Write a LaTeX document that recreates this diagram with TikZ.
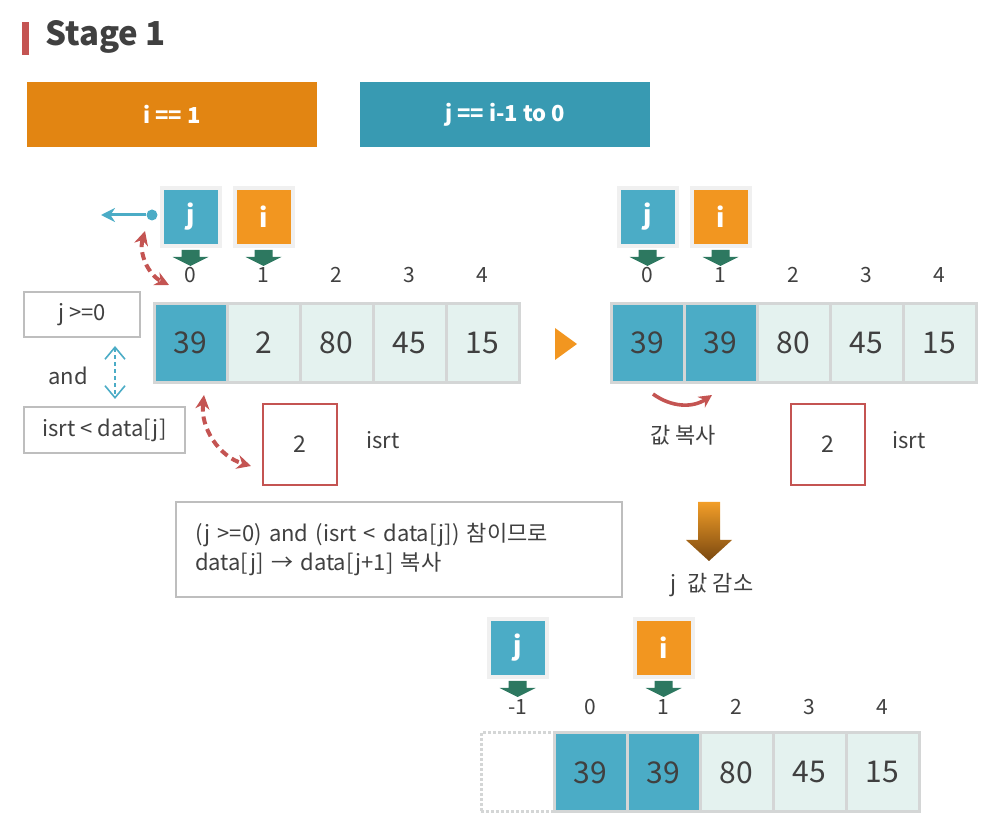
\documentclass[tikz,border=0pt]{standalone}
\usepackage{fontspec}
\setmainfont{Noto Sans CJK KR}
\usetikzlibrary{positioning,arrows.meta,calc}

\definecolor{tealhd}{RGB}{56,154,178}
\definecolor{orangehd}{RGB}{226,133,18}
\definecolor{tealc}{RGB}{75,172,198}
\definecolor{orangec}{RGB}{242,150,32}
\definecolor{lightc}{RGB}{228,242,239}
\definecolor{cellgray}{RGB}{212,214,214}
\definecolor{boxgray}{RGB}{190,190,190}
\definecolor{redc}{RGB}{196,84,82}
\definecolor{textc}{RGB}{64,64,64}
\definecolor{ptrgreen}{RGB}{45,120,96}

\tikzset{
  hdbox/.style={minimum width=145pt, minimum height=32.5pt, inner sep=0pt, text=white, font=\fontsize{11}{13}\selectfont\bfseries},
  cell/.style={draw=cellgray, line width=1.5pt, fill=lightc, minimum width=36.5pt, minimum height=39.5pt, inner sep=0pt, text=textc, font=\fontsize{15}{18}\selectfont},
  hicell/.style={cell, fill=tealc},
  idx/.style={text=textc, font=\fontsize{10.5}{12}\selectfont},
  ptr/.style={draw=black!6, line width=2pt, minimum size=29pt, inner sep=0pt, text=white, font=\fontsize{13}{15}\selectfont\bfseries},
  ptrj/.style={ptr, fill=tealc},
  ptri/.style={ptr, fill=orangec},
  cond/.style={draw=boxgray, line width=1pt, inner sep=0pt, text=textc, font=\fontsize{11}{13}\selectfont},
  isrtbox/.style={draw=redc, line width=1pt, minimum width=37pt, minimum height=40.5pt, inner sep=0pt, text=textc, font=\fontsize{11.5}{13}\selectfont},
  txt/.style={text=textc, font=\fontsize{11}{13}\selectfont},
  reddash/.style={redc, line width=2pt, dash pattern=on 4pt off 2.5pt, {Stealth[length=7pt,width=7pt]}-{Stealth[length=7pt,width=7pt]}},
}

\begin{document}
\begin{tikzpicture}[x=0.5pt,y=-0.5pt]
\useasboundingbox (0,0) rectangle (998,834);
% 标题
\fill[redc] (22,22) rectangle (29,55);
\node[anchor=west, text=textc, font=\fontsize{16.5}{20}\selectfont\bfseries] (title) at (38,37) {Stage 1};
\node[hdbox, fill=orangehd] (hdi) at (172,114.5) {i == 1};
\node[hdbox, fill=tealhd] (hdj) at (505,114.5) {j == i-1 to 0};

% 第一个数组
\foreach \v/\st [count=\k from 0] in {39/hicell,2/cell,80/cell,45/cell,15/cell} {
  \node[\st] (a\k) at (190.5+73*\k,343) {\v};
  \node[idx] (ia\k) at (190.5+73*\k,275) {\k};
}
\node[ptrj] (pj1) at (190.5,217) {j};
\node[ptri] (pi1) at (263.5,217) {i};

% 第二个数组
\foreach \v/\st [count=\k from 0] in {39/hicell,39/hicell,80/cell,45/cell,15/cell} {
  \node[\st] (b\k) at (647.5+73*\k,343) {\v};
  \node[idx] (ib\k) at (647.5+73*\k,275) {\k};
}
\node[ptrj] (pj2) at (647.5,217) {j};
\node[ptri] (pi2) at (720.5,217) {i};

% 第三个数组
\node[cell, fill=white, densely dotted] (c0) at (517.5,772.5) {};
\node[idx] (ic0) at (517.5,707) {-1};
\foreach \v/\st [count=\k from 1] in {39/hicell,39/hicell,80/cell,45/cell,15/cell} {
  \pgfmathtruncatemacro\n{\k-1}
  \node[\st] (c\k) at (517.5+73*\k,772.5) {\v};
  \node[idx] (ic\k) at (517.5+73*\k,707) {\n};
}
\node[ptrj] (pj3) at (517.5,648) {j};
\node[ptri] (pi3) at (663.5,648) {i};

% 指针下方的箭头
\foreach \p in {pj1,pi1,pj2,pi2,pj3,pi3}
  \fill[ptrgreen] (\p.south) ++(-9,2) -- ++(18,0) -- ++(0,7) -- ++(9,0) -- ++(-18,9) -- ++(-18,-9) -- ++(9,0) -- cycle;

% 条件
\node[cond, minimum width=58pt, minimum height=22.5pt] (cd1) at (82,314.5) {j >=0};
\node[cond, minimum width=80.5pt, minimum height=23pt] (cd2) at (104.5,430) {isrt < data[j]};
\node[txt] (and) at (68,376) {and};
\draw[tealc, line width=0.8pt, dash pattern=on 2pt off 1.5pt, {Straight Barb[length=6pt,width=10pt]}-{Straight Barb[length=6pt,width=10pt]}]
  ([xshift=16.5pt,yshift=-4pt]cd1.south) -- ([xshift=5.25pt,yshift=3.5pt]cd2.north);

% j 向左移动
\node[circle, fill=tealc, inner sep=0pt, minimum size=5.5pt] (jdot) at (152,215) {};
\coordinate (jout) at (101,215);
\draw[tealc, line width=1.5pt, -{Stealth[length=7pt,width=7pt]}] (jdot) -- (jout);

% 红色虚线双箭头
\coordinate (r1a) at (145,231);
\coordinate (r1b) at (169,285);
\draw[reddash] (r1a) to[bend right=40] (r1b);

\node[isrtbox] (is1) at (300,444.5) {2};
\node[txt] (isl1) at (383,440) {isrt};
\coordinate (r2a) at (204,395);
\coordinate (r2b) at (251,466);
\draw[reddash] (r2a) to[bend right=40] (r2b);

% 下一步
\fill[orangec] (555,328) -- (577,344) -- (555,360) -- cycle;

% 值复制
\draw[redc, line width=1.8pt, -{Stealth[length=6.5pt,width=6.5pt]}] ([xshift=2.75pt,yshift=-5pt]b0.south) to[bend right=35] ([xshift=-4.25pt,yshift=-5.5pt]b1.south);
\node[txt] (cp) at (683,435) {값 복사};
\node[isrtbox] (is2) at (827.5,444.5) {2};
\node[txt] (isl2) at (909,440) {isrt};

% 说明
\node[cond, minimum width=223pt, minimum height=47.5pt, text width=204pt, inner xsep=9.5pt, align=left, font=\fontsize{11}{14.5}\selectfont] (note) at (399,549.5)
  {(j >=0) and (isrt < data[j]) 참이므로\\data[j] → data[j+1] 복사};

% j 减少
\shade[top color={rgb,255:red,242;green,158;blue,40}, bottom color={rgb,255:red,122;green,72;blue,16}]
  (698,502) -- (720,502) -- (720,540) -- (732,540) -- (709,561) -- (686,540) -- (698,540) -- cycle;
\node[txt] (dec) at (712,585) {j\hspace{3pt} 값 감소};
\end{tikzpicture}
\end{document}
